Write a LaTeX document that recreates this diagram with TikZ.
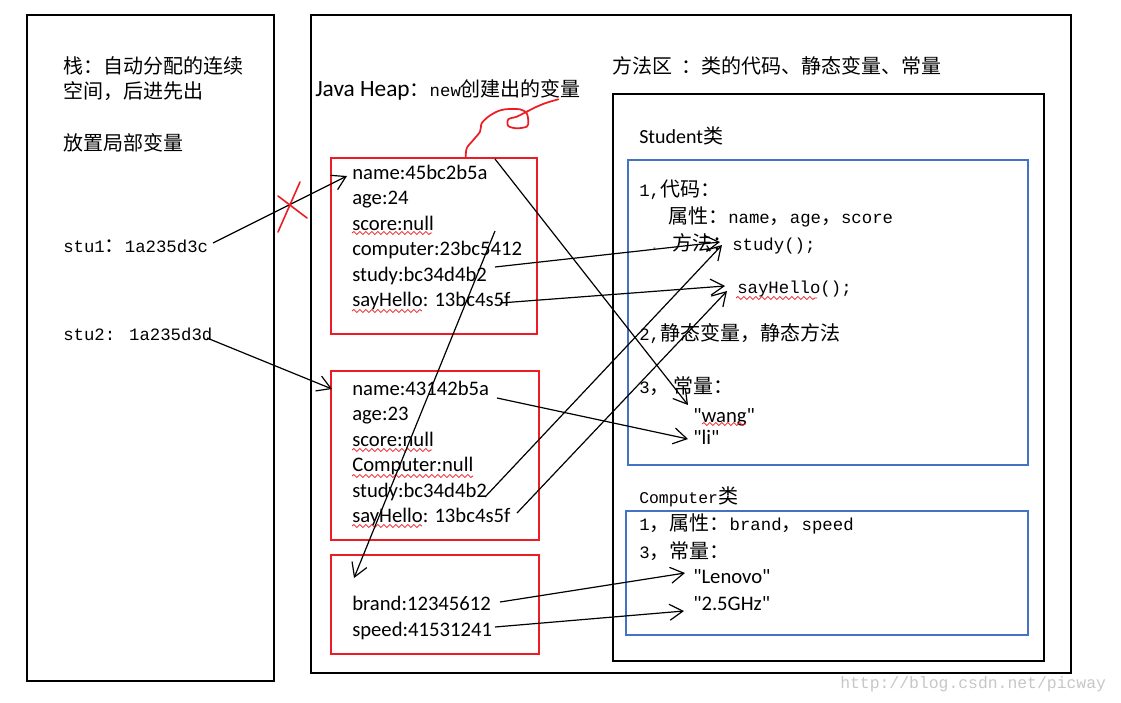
\documentclass[tikz,border=0pt]{standalone}
\usepackage{fontspec}
\setmainfont{Carlito}[Ligatures=TeXOff]
\newfontfamily\cjkf{Noto Sans CJK SC}
\newfontfamily\monof{Liberation Mono}
\usetikzlibrary{arrows.meta,decorations.pathmorphing}
\definecolor{myred}{RGB}{237,28,36}
\definecolor{myblue}{RGB}{68,114,196}
\newcommand\Cj[1]{{\cjkf\fontsize{15}{18}\selectfont #1}}
\newcommand\Mo[1]{{\monof\fontsize{13}{15}\selectfont #1}}
\newcommand\Ms[1]{{\monof\fontsize{12.3}{15}\selectfont #1}}
\newcommand\Ca[1]{{\fontsize{15.5}{18}\selectfont #1}}
\begin{document}
\begin{tikzpicture}[x=0.75pt,y=-0.75pt,
  txt/.style={anchor=base west,inner sep=0pt},
  blk/.style={draw=black,line width=2pt},
  redbox/.style={draw=myred,line width=1.5pt},
  bluebox/.style={draw=myblue,line width=1.4pt},
  ptr/.style={-{Straight Barb[length=10pt,width=12pt]},line width=0.9pt},
  wavy/.style={draw=myred,decorate,decoration={snake,amplitude=1.1pt,segment length=4.5pt},line width=0.6pt},
  redmark/.style={draw=myred,line width=1.2pt,line cap=round}]
\useasboundingbox (0,0) rectangle (1121,703);
\fill[white] (0,0) rectangle (1121,703);

% boxes
\draw[blk] (27,15) rectangle (274,681);
\draw[blk] (311,15) rectangle (1071,673);
\draw[blk] (613,94) rectangle (1044,661);
\draw[bluebox] (628,160) rectangle (1028,465);
\draw[bluebox] (626,511) rectangle (1028,635);
\draw[redbox,line width=2.2pt] (331,158) rectangle (537,334);
\draw[redbox] (331,371) rectangle (539,540);
\draw[redbox] (331,555) rectangle (539,654);

% stack text
\node[txt] (stk1) at (63,73) {\Cj{栈：自动分配的连续}};
\node[txt] (stk2) at (63,98) {\Cj{空间，后进先出}};
\node[txt] (stk3) at (63,150) {\Cj{放置局部变量}};
\node[txt] (stu1) at (63,252) {\Mo{stu1}\Cj{：}\Mo{1a235d3c}};
\node[txt] (stu2) at (63,340) {\Mo{stu2: 1a235d3d}};

% heap title
\node[txt] (heap) at (315,96) {{\fontsize{17.5}{20}\selectfont Java Heap}\Cj{：}\Mo{new}\Cj{创建出的变量}};
\draw[myred,line width=1.3pt,line cap=round,line join=round] plot[smooth] coordinates {(465.7,158.3) (466.7,148.3) (473.3,140) (480,131.7) (481.7,123.3) (488.3,116.7) (496.7,111.7) (505,109.3) (520,109.3) (526.7,113.3) (528.3,121.7) (526.7,126.7) (516.7,128.3) (508.3,126) (508.3,119.3) (516.7,116.7) (526.7,111.7) (536.7,106.7) (546.7,102.7) (558.3,99.3)};

% method area title
\node[txt] (ma) at (612,73) {\Cj{方法区\hspace{7pt}：类的代码、静态变量、常量}};

% object 1
\node[txt] (a1) at (352,179) {\Ca{name:45bc2b5a}};
\node[txt] (a2) at (352,204.5) {\Ca{age:24}};
\node[txt] (a3) at (352,230) {\Ca{score:null}};
\node[txt] (a4) at (352,255.5) {\Ca{computer:23bc5412}};
\node[txt] (a5) at (352,281) {\Ca{study:bc34d4b2}};
\node[txt] (a6) at (352,306.5) {\Ca{sayHello: 13bc4s5f}};
% object 2
\node[txt] (b1) at (352,395) {\Ca{name:43142b5a}};
\node[txt] (b2) at (352,420.5) {\Ca{age:23}};
\node[txt] (b3) at (352,446) {\Ca{score:null}};
\node[txt] (b4) at (352,471.5) {\Ca{Computer:null}};
\node[txt] (b5) at (352,497) {\Ca{study:bc34d4b2}};
\node[txt] (b6) at (352,522.5) {\Ca{sayHello: 13bc4s5f}};
% object 3
\node[txt] (e1) at (352,610) {\Ca{brand:12345612}};
\node[txt] (e2) at (352,636) {\Ca{speed:41531241}};

% Student class
\node[txt] (sc) at (639,143) {{\fontsize{15}{18}\selectfont Student}\Cj{类}};
\node[txt] (c1) at (639,196) {\Mo{1,}\Cj{代码：}};
\node[txt] (c2) at (668,223) {\Cj{属性：}\Mo{name}\Cj{，}\Mo{age}\Cj{，}\Mo{score}};
\node[txt,text=gray] (dot) at (649,250) {\Mo{.}};
\node[txt] (c3) at (672,250) {\Cj{方法：}\Mo{study();}};
\node[txt] (c4) at (737,293) {\Mo{sayHello();}};
\node[txt] (c5) at (639,340) {\Mo{2,}\Cj{静态变量，静态方法}};
\node[txt] (c6) at (639,393) {\Mo{3}\Cj{，\hspace{3pt}常量：}};
\node[txt] (c7) at (693,422) {\Ca{"wang"}};
\node[txt] (c8) at (693,444) {\Ca{"li"}};

% Computer class
\node[txt] (cc) at (639,503) {\Ms{Computer}\Cj{类}};
\node[txt] (d1) at (639,530) {\Mo{1}\Cj{，属性：}\Mo{brand}\Cj{，}\Mo{speed}};
\node[txt] (d2) at (639,558) {\Mo{3}\Cj{，常量：}};
\node[txt] (d3) at (693,583) {\Ca{"Lenovo"}};
\node[txt] (d4) at (693,610) {\Ca{"2.5GHz"}};

% watermark
\node[txt,text=black!22] (wm) at (840,688) {\Ms{http://blog.csdn.net/picway}};

% wavy underlines
\draw[wavy] (352,233) -- (432,233);
\draw[wavy] (352,311) -- (422,311);
\draw[wavy] (352,450) -- (432,450);
\draw[wavy] (352,476) -- (473,476);
\draw[wavy] (352,526) -- (422,526);
\draw[wavy] (702,424) -- (746,424);
\draw[wavy] (736,298) -- (817,298);

% connector end points
\coordinate (p1s) at (213,243);  \coordinate (p1e) at (347,176);
\coordinate (p2s) at (207,338);  \coordinate (p2e) at (332,389);
\coordinate (p3s) at (495,159);  \coordinate (p3e) at (688,405);
\coordinate (p4s) at (495,231);  \coordinate (p4e) at (354,578);
\coordinate (p5s) at (495,267);  \coordinate (p5e) at (720,242);
\coordinate (p6s) at (500,303);  \coordinate (p6e) at (725,286);
\coordinate (p7s) at (497,398);  \coordinate (p7e) at (688,439);
\coordinate (p8s) at (485,497);  \coordinate (p8e) at (722,245);
\coordinate (p9s) at (517,513);  \coordinate (p9e) at (727,291);
\coordinate (p10s) at (500,602); \coordinate (p10e) at (685,573);
\coordinate (p11s) at (495,627); \coordinate (p11e) at (684,611);

\draw[ptr] (p1s) -- (p1e);
\draw[ptr] (p2s) -- (p2e);
\draw[ptr] (p3s) -- (p3e);
\draw[ptr] (p4s) -- (p4e);
\draw[ptr] (p5s) -- (p5e);
\draw[ptr] (p6s) -- (p6e);
\draw[ptr] (p7s) -- (p7e);
\draw[ptr] (p8s) -- (p8e);
\draw[ptr] (p9s) -- (p9e);
\draw[ptr] (p10s) -- (p10e);
\draw[ptr] (p11s) -- (p11e);

% red cross on stu1 pointer
\coordinate (x1a) at (278,232); \coordinate (x1b) at (300,182);
\coordinate (x2a) at (278,196); \coordinate (x2b) at (307,218);
\draw[redmark] (x1a) -- (x1b);
\draw[redmark] (x2a) -- (x2b);
\end{tikzpicture}
\end{document}
